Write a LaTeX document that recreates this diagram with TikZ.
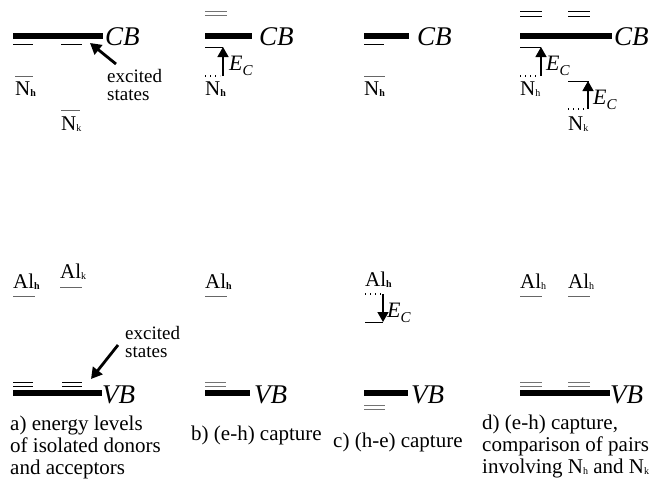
\documentclass[tikz,border=0pt]{standalone}
\usepackage{fontspec}
\setmainfont{Liberation Serif}
\usetikzlibrary{arrows.meta}
\newcommand{\sbx}[1]{\raisebox{-1.5pt}{\fontsize{10}{10}\selectfont #1}}
\newcommand{\sbb}[1]{\raisebox{-1.5pt}{\fontsize{10}{10}\selectfont\bfseries #1}}
\newcommand{\ecl}{\textit{E}\raisebox{-5pt}{\fontsize{15}{15}\selectfont\textit{C}}}
\tikzset{
  bandline/.style={line width=6pt},
  lvl/.style={line width=1pt},
  glvl/.style={line width=1pt, black!55},
  dotline/.style={line width=1.3pt, dash pattern=on 1.3pt off 3.7pt},
  bigarrow/.style={line width=2.8pt, -{Triangle[width=12pt,length=11pt]}},
  ecarrow/.style={line width=1.4pt, -{Triangle[width=11pt,length=10pt]}},
  lbl/.style={inner sep=0, anchor=base west, font=\fontsize{21}{22}\selectfont},
  bandlbl/.style={inner sep=0, anchor=west, font=\fontsize{27}{27}\selectfont\itshape},
  eclbl/.style={inner sep=0, anchor=west, font=\fontsize{22}{22}\selectfont},
  exlbl/.style={inner sep=0, anchor=base west, font=\fontsize{19}{19}\selectfont},
  captxt/.style={inner sep=0, anchor=base west, font=\fontsize{21}{22}\selectfont}
}
\begin{document}
\begin{tikzpicture}[x=1pt,y=-1pt]
\useasboundingbox[fill=white] (0,0) rectangle (652,482);
% ================= panel a =================
\coordinate (aCBl) at (13,36); \coordinate (aCBr) at (103,36);
\draw[bandline] (aCBl) -- (aCBr);
\node[bandlbl] (aCB) at (105,37) {CB};
\draw[lvl] (13,44) coordinate (ax1) -- (33,44) coordinate (ax2);
\draw[lvl] (61,44) coordinate (ax3) -- (82,44) coordinate (ax4);
\node[exlbl] (aex1) at (107,82) {excited};
\node[exlbl] (aex1b) at (107,100) {states};
\coordinate (aarT) at (116,64); \coordinate (aarH) at (90,43);
\draw[bigarrow] (aarT) -- (aarH);
\draw[lvl, black!60] (15,76) coordinate (aNh1) -- (33,76) coordinate (aNh2);
\node[lbl] (aNh) at (15,95) {N\sbb{h}};
\draw[lvl, black!60] (61,110) coordinate (aNk1) -- (80,110) coordinate (aNk2);
\node[lbl] (aNk) at (61,130) {N\sbx{k}};
\node[lbl] (aAlh) at (13,288) {Al\sbb{h}};
\draw[lvl, black!60] (13,296) coordinate (aA1) -- (35,296) coordinate (aA2);
\node[lbl] (aAlk) at (60,278) {Al\sbx{k}};
\draw[lvl, black!60] (60,287) coordinate (aA3) -- (82,287) coordinate (aA4);
\node[exlbl] (aex2) at (125,339) {excited};
\node[exlbl] (aex2b) at (125,357) {states};
\coordinate (aarT2) at (118,345); \coordinate (aarH2) at (91,379);
\draw[bigarrow] (aarT2) -- (aarH2);
\draw[lvl] (13,382) -- (33,382); \draw[lvl] (13,386) -- (33,386);
\draw[lvl] (62,382) -- (82,382); \draw[lvl] (62,386) -- (82,386);
\draw[bandline] (13,393) coordinate (aVBl) -- (102,393) coordinate (aVBr);
\node[bandlbl] (aVB) at (102,395) {VB};
\node[captxt] (acap1) at (10,430) {a) energy levels};
\node[captxt] (acap2) at (10,452) {of isolated donors};
\node[captxt] (acap3) at (10,474) {and acceptors};
% ================= panel b =================
\draw[glvl] (205,11) -- (227,11); \draw[glvl] (205,15) -- (227,15);
\draw[bandline] (205,36) coordinate (bCBl) -- (252,36) coordinate (bCBr);
\node[bandlbl] (bCB) at (259,37) {CB};
\coordinate (bL1) at (205,47); \coordinate (bL2) at (223,47);
\draw[lvl] (bL1) -- (bL2);
\coordinate (bD1) at (205,76); \coordinate (bD2) at (223,76);
\draw[dotline] (bD1) -- (220,76);
\draw[ecarrow] (bD2) -- (bL2);
\node[eclbl] (bEc) at (229,66) {\ecl};
\node[lbl] (bNh) at (205,95) {N\sbb{h}};
\node[lbl] (bAlh) at (205,288) {Al\sbb{h}};
\draw[lvl, black!60] (205,296) -- (227,296);
\draw[glvl] (205,382) -- (226,382); \draw[glvl] (205,386) -- (226,386);
\draw[bandline] (205,393) coordinate (bVBl) -- (250,393) coordinate (bVBr);
\node[bandlbl] (bVB) at (254,395) {VB};
\node[captxt] (bcap) at (191,440) {b) (e-h) capture};
% ================= panel c =================
\draw[bandline] (364,36) coordinate (cCBl) -- (409,36) coordinate (cCBr);
\draw[lvl] (364,44) -- (384,44);
\node[bandlbl] (cCB) at (417,37) {CB};
\draw[lvl, black!60] (364,76) -- (385,76);
\node[lbl] (cNh) at (364,95) {N\sbb{h}};
\node[lbl] (cAlh) at (365,286) {Al\sbb{h}};
\coordinate (cD1) at (365,294); \coordinate (cD2) at (383,294);
\draw[dotline] (cD1) -- (381,294);
\coordinate (cL1) at (365,322); \coordinate (cL2) at (383,322);
\draw[lvl] (cL1) -- (cL2);
\draw[ecarrow] (cD2) -- (cL2);
\node[eclbl] (cEc) at (387,313) {\ecl};
\draw[bandline] (364,393) coordinate (cVBl) -- (408,393) coordinate (cVBr);
\node[bandlbl] (cVB) at (411,395) {VB};
\draw[glvl] (364,405) -- (385,405); \draw[glvl] (364,409) -- (385,409);
\node[captxt] (ccap) at (333,447) {c) (h-e) capture};
% ================= panel d =================
\draw[lvl] (520,11) -- (542,11); \draw[lvl] (520,16) -- (542,16);
\draw[lvl] (568,11) -- (590,11); \draw[lvl] (568,16) -- (590,16);
\draw[bandline] (520,36) coordinate (dCBl) -- (612,36) coordinate (dCBr);
\node[bandlbl] (dCB) at (614,37) {CB};
\coordinate (dL1) at (520,47); \coordinate (dL2) at (541,47);
\draw[lvl] (dL1) -- (dL2);
\coordinate (dD1) at (520,76); \coordinate (dD2) at (541,76);
\draw[dotline] (dD1) -- (537,76);
\draw[ecarrow] (dD2) -- (dL2);
\node[eclbl] (dEc1) at (546,66) {\ecl};
\node[lbl] (dNh) at (520,95) {N\sbx{h}};
\coordinate (dL3) at (568,81); \coordinate (dL4) at (589,81);
\draw[lvl] (dL3) -- (dL4);
\coordinate (dD3) at (568,109); \coordinate (dD4) at (588,109);
\draw[dotline] (dD3) -- (585,109);
\draw[ecarrow] (dD4) -- (588,81) coordinate (dA4);
\node[eclbl] (dEc2) at (593,100) {\ecl};
\node[lbl] (dNk) at (568,130) {N\sbx{k}};
\node[lbl] (dAlh1) at (520,288) {Al\sbx{h}};
\draw[lvl, black!60] (520,296) -- (542,296);
\node[lbl] (dAlh2) at (568,288) {Al\sbx{h}};
\draw[lvl, black!60] (568,296) -- (590,296);
\draw[glvl] (520,382) -- (542,382); \draw[glvl] (520,386) -- (542,386);
\draw[glvl] (568,382) -- (590,382); \draw[glvl] (568,386) -- (590,386);
\draw[bandline] (520,393) coordinate (dVBl) -- (610,393) coordinate (dVBr);
\node[bandlbl] (dVB) at (610,395) {VB};
\node[captxt] (dcap1) at (482,429) {d) (e-h) capture,};
\node[captxt] (dcap2) at (482,451) {comparison of pairs};
\node[captxt] (dcap3) at (482,473) {involving N\sbx{h} and N\sbx{k}};
\end{tikzpicture}
\end{document}
